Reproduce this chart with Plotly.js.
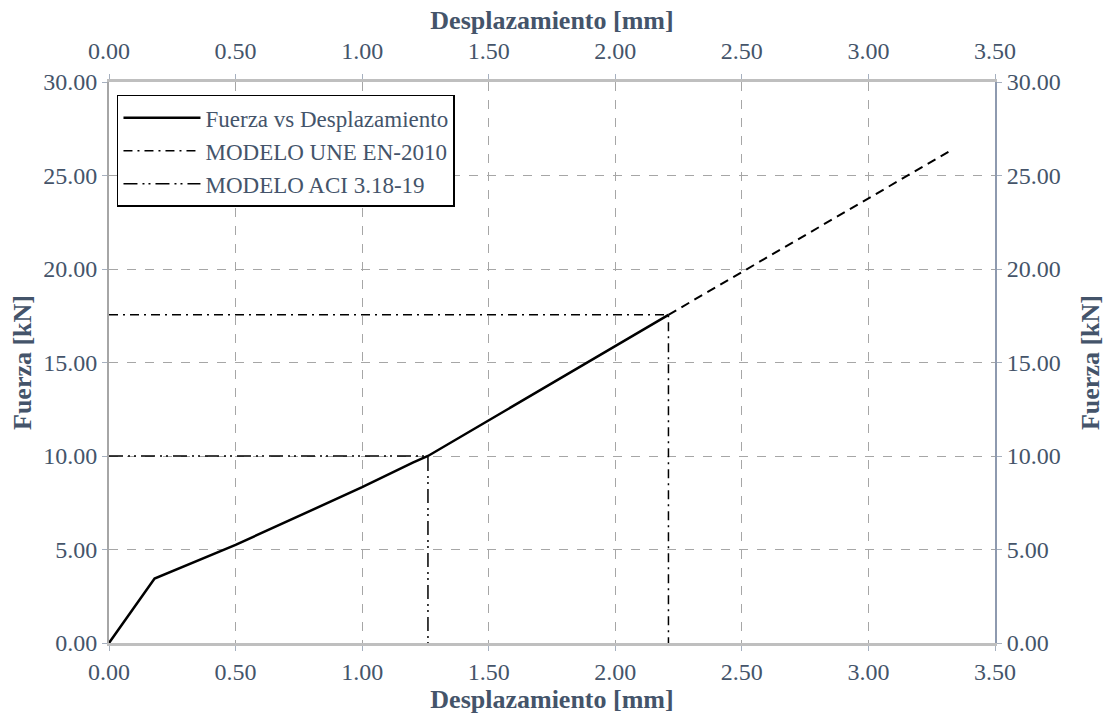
<!DOCTYPE html>
<html><head><meta charset="utf-8">
<script src="https://cdn.plot.ly/plotly-3.0.1.min.js"></script>
<style>html,body{margin:0;padding:0;background:#fff}#chart{width:1109px;height:720px}</style>
</head><body><div id="chart"></div>
<script>
// Fuerza vs Desplazamiento (solid)
const dispMain = [0.00, 0.18, 0.50, 1.00, 1.20, 1.26, 2.21];
const forceMain = [0.00, 3.45, 5.25, 8.33, 9.65, 10.00, 17.55];
// Extension of the curve (dashed)
const dispExt = [2.21, 3.32];
const forceExt = [17.55, 26.30];
// MODELO UNE EN-2010
const dispUNE = [0.00, 2.21, 2.21];
const forceUNE = [17.55, 17.55, 0.00];
// MODELO ACI 3.18-19
const dispACI = [0.00, 1.26, 1.26];
const forceACI = [10.00, 10.00, 0.00];
const xTicks = [0, 0.5, 1, 1.5, 2, 2.5, 3, 3.5];
const yTicks = [0, 5, 10, 15, 20, 25, 30];

const fnt = 'Liberation Serif, Times New Roman, serif';
const txtCol = '#44546A';
const traces = [
  {x: dispMain, y: forceMain, mode: 'lines', name: 'Fuerza vs Desplazamiento',
   line: {color: '#000', width: 2.5}},
  {x: dispUNE, y: forceUNE, mode: 'lines', name: 'MODELO UNE EN-2010',
   line: {color: '#000', width: 1.5, dash: '9px,5px,2px,5px'}},
  {x: dispACI, y: forceACI, mode: 'lines', name: 'MODELO ACI 3.18-19',
   line: {color: '#000', width: 1.5, dash: '14px,5px,2px,4px,2px,5px'}},
  {x: dispExt, y: forceExt, mode: 'lines', showlegend: false,
   line: {color: '#000', width: 2, dash: '9px,6px'}},
  {x: dispMain, y: forceMain, xaxis: 'x2', yaxis: 'y2', mode: 'lines', showlegend: false,
   opacity: 0, hoverinfo: 'skip', line: {color: 'rgba(0,0,0,0)', width: 0}}
];
const tickFont = {family: fnt, size: 24, color: txtCol};
const titleFont = {family: fnt, size: 26, color: txtCol};
const axBase = {
  range: [0, 3.5], tickvals: xTicks, ticktext: xTicks.map(v => v.toFixed(2)),
  tickfont: tickFont,
  ticks: 'outside', ticklen: 5, tickcolor: '#A6B0BF',
  showline: true, linecolor: '#BFBFBF', linewidth: 3,
  zeroline: false
};
const layout = {
  width: 1109, height: 720,
  margin: {l: 109, r: 114, t: 82, b: 77},
  paper_bgcolor: '#fff', plot_bgcolor: '#fff',
  font: {family: fnt, color: txtCol},
  showlegend: true,
  legend: {x: 0.009, y: 0.977, xanchor: 'left', yanchor: 'top',
    bgcolor: '#fff', bordercolor: '#000', borderwidth: 1.5, itemwidth: 77,
    font: {family: fnt, size: 23, color: txtCol}, tracegroupgap: 0},
  xaxis: Object.assign({}, axBase, {
    showgrid: true, gridcolor: '#A6A6A6', griddash: 'dash', gridwidth: 1,
    title: {text: '<b>Desplazamiento [mm]</b>', font: titleFont, standoff: 2}
  }),
  xaxis2: Object.assign({}, axBase, {
    overlaying: 'x', side: 'top', showgrid: false, anchor: 'y2', ticklabelstandoff: 5,
    title: {text: '<b>Desplazamiento [mm]</b>', font: titleFont, standoff: 2}
  }),
  yaxis: {
    range: [0, 30], tickvals: yTicks, ticktext: yTicks.map(v => v.toFixed(2)),
    tickfont: tickFont,
    ticks: 'outside', ticklen: 5, tickcolor: '#A6B0BF',
    showline: true, linecolor: '#A6A6A6', linewidth: 2, zeroline: false,
    showgrid: true, gridcolor: '#A6A6A6', griddash: 'dash', gridwidth: 1,
    title: {text: '<b>Fuerza [kN]</b>', font: titleFont, standoff: 4}
  },
  yaxis2: {
    range: [0, 30], tickvals: yTicks, ticktext: yTicks.map(v => v.toFixed(2)),
    tickfont: tickFont, anchor: 'x2',
    ticks: 'outside', ticklen: 5, tickcolor: '#A6B0BF',
    overlaying: 'y', side: 'right', showgrid: false, zeroline: false,
    showline: true, linecolor: '#8E9AAF', linewidth: 2,
    title: {text: '<b>Fuerza [kN]</b>', font: titleFont, standoff: 21}
  }
};
Plotly.newPlot('chart', traces, layout, {displayModeBar: false, staticPlot: true});
</script></body></html>
